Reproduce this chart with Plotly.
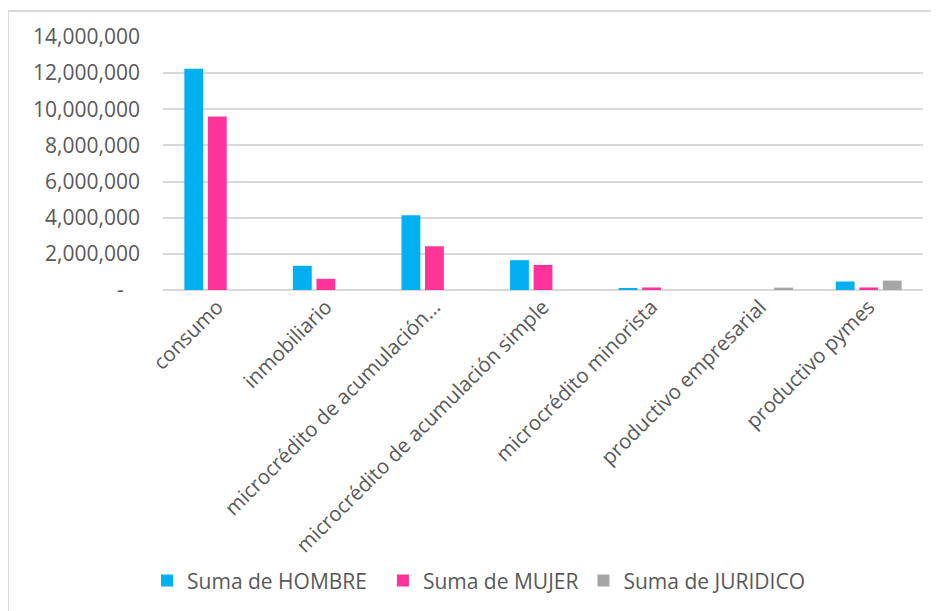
import plotly.graph_objects as go

categorias = [
    "consumo",
    "inmobiliario",
    "microcrédito de acumulación...",
    "microcrédito de acumulación simple",
    "microcrédito minorista",
    "productivo empresarial",
    "productivo pymes",
]
hombre = [12250000, 1340000, 4130000, 1650000, 80000, 0, 470000]
mujer = [9600000, 620000, 2420000, 1390000, 140000, 0, 140000]
juridico = [0, 0, 0, 0, 0, 130000, 520000]

y_ticks = [0, 2000000, 4000000, 6000000, 8000000, 10000000, 12000000, 14000000]
y_labels = ["-\u00a0\u00a0\u00a0", "2,000,000", "4,000,000", "6,000,000", "8,000,000",
            "10,000,000", "12,000,000", "14,000,000"]

FONT = "Open Sans"
GREY = "#595959"

fig = go.Figure()
for name, vals, color in [
    ("Suma de HOMBRE\u00a0\u00a0", hombre, "#00B0F0"),
    ("Suma de MUJER", mujer, "#FF3399"),
    ("Suma de JURIDICO", juridico, "#A5A5A5"),
]:
    fig.add_trace(go.Bar(x=categorias, y=vals, name=name, marker_color=color,
                         marker_line_width=0))

# page body has an 8px margin, so the plot box is offset by that
fig.update_layout(
    width=939,
    height=611,
    paper_bgcolor="white",
    plot_bgcolor="white",
    barmode="group",
    bargap=0.35,
    bargroupgap=0.2,
    margin=dict(l=155, r=24, t=29, b=329),
    font=dict(family=FONT, size=21, color=GREY),
    xaxis=dict(tickangle=-45, showgrid=False, showline=False, ticks="",
               tickfont=dict(size=20.5, color=GREY)),
    yaxis=dict(range=[0, 14000000], tickvals=y_ticks, ticktext=y_labels,
               showgrid=True, gridcolor="#D9D9D9", gridwidth=2,
               zeroline=True, zerolinecolor="#D9D9D9", zerolinewidth=2,
               ticks="", ticklabelstandoff=22,
               tickfont=dict(size=21, color=GREY)),
    legend=dict(orientation="h", x=-0.021, xanchor="left", y=-1.15,
                yanchor="middle", font=dict(size=21, color=GREY),
                itemwidth=30),
    shapes=[
        dict(type="line", xref="paper", yref="paper", x0=-0.204, x1=1.05,
             y0=1.103, y1=1.103, line=dict(color="#D9D9D9", width=2)),
        dict(type="line", xref="paper", yref="paper", x0=-0.204, x1=-0.204,
             y0=1.103, y1=-1.3, line=dict(color="#D9D9D9", width=2)),
    ],
)

fig.write_html("out.html")
